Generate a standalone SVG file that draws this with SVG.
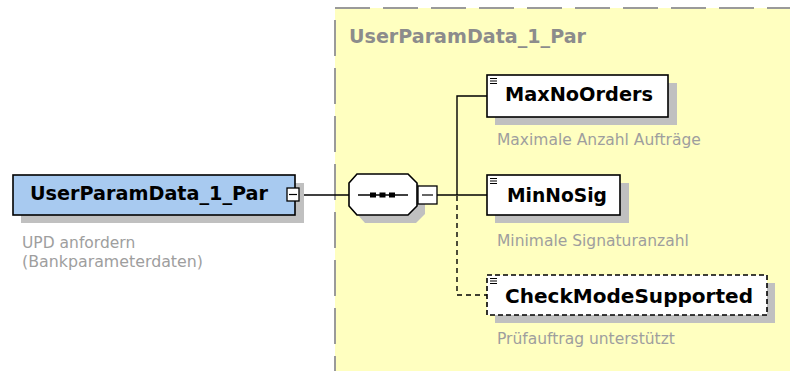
<svg xmlns="http://www.w3.org/2000/svg" width="790" height="371" viewBox="0 0 790 371">
<style>
  .name{font-family:"DejaVu Sans",Verdana,sans-serif;font-weight:bold;font-size:19px;fill:#000}
  .title{font-family:"DejaVu Sans",Verdana,sans-serif;font-weight:bold;font-size:19px;fill:#8c8c8c}
  .desc{font-family:"DejaVu Sans",Verdana,sans-serif;font-size:15.5px;fill:#9e9e9e}
  .box{fill:#fff;stroke:#000;stroke-width:1.6}
  .shadow{fill:#c0c0c0}
  .conn{stroke:#000;stroke-width:1.4;fill:none}
  .dconn{stroke:#000;stroke-width:1.4;fill:none;stroke-dasharray:5 4}
  .icon{stroke:#000;stroke-width:1}
  .tog{fill:#fff;stroke:#000;stroke-width:1.3}
</style>
<rect width="790" height="371" fill="#fff"/>
<g id="group-area">
  <rect x="335" y="8" width="455" height="363" fill="#ffffc0"/>
  <line x1="335" y1="8" x2="790" y2="8" stroke="#9a9a9a" stroke-width="2" stroke-dasharray="35 13"/>
  <line x1="335" y1="20" x2="335" y2="371" stroke="#9a9a9a" stroke-width="2" stroke-dasharray="36 12"/>
  <text class="title" x="349" y="43" textLength="237" lengthAdjust="spacingAndGlyphs">UserParamData_1_Par</text>
</g>
<g id="connectors">
  <line class="conn" x1="299" y1="195" x2="349" y2="195"/>
  <line class="conn" x1="437" y1="195" x2="487" y2="195"/>
  <polyline class="conn" points="457,195 457,96 487,96"/>
  <polyline class="dconn" points="457,196 457,295 487,295"/>
</g>
<g id="root">
  <rect class="shadow" x="21" y="183" width="283" height="40"/>
  <rect x="13" y="175" width="282" height="40" fill="#a8caf0" stroke="#000" stroke-width="1.6"/>
  <text class="name" x="30" y="200" textLength="238" lengthAdjust="spacingAndGlyphs">UserParamData_1_Par</text>
  <rect class="tog" x="287" y="188" width="12" height="13"/>
  <line x1="289" y1="194.5" x2="297" y2="194.5" stroke="#000" stroke-width="1.2"/>
  <text class="desc" x="22" y="248">UPD anfordern</text>
  <text class="desc" x="22" y="267" textLength="181" lengthAdjust="spacingAndGlyphs">(Bankparameterdaten)</text>
</g>
<g id="sequence">
  <polygon class="shadow" points="365,182 416,182 425,191 425,214 416,223 365,223 357,214 357,191"/>
  <polygon points="357,174 408,174 417,183 417,206 408,215 357,215 349,206 349,183" fill="#fff" stroke="#000" stroke-width="1.6"/>
  <line x1="358" y1="195" x2="408" y2="195" stroke="#000" stroke-width="1.4"/>
  <rect x="370" y="192.5" width="6" height="5" fill="#000"/>
  <rect x="379.5" y="192.5" width="6" height="5" fill="#000"/>
  <rect x="389" y="192.5" width="6" height="5" fill="#000"/>
  <rect class="tog" x="418" y="186" width="19" height="18"/>
  <line x1="422" y1="195" x2="433" y2="195" stroke="#000" stroke-width="1.2"/>
</g>
<g id="MaxNoOrders">
  <rect class="shadow" x="495" y="83" width="182" height="42"/>
  <rect class="box" x="487" y="75" width="181" height="42"/>
  <line class="icon" x1="490" y1="78.5" x2="497" y2="78.5"/>
  <line class="icon" x1="490" y1="81" x2="497" y2="81"/>
  <line class="icon" x1="490" y1="83.5" x2="497" y2="83.5"/>
  <text class="name" x="505" y="101" textLength="148" lengthAdjust="spacingAndGlyphs">MaxNoOrders</text>
  <text class="desc" x="497" y="145">Maximale Anzahl Aufträge</text>
</g>
<g id="MinNoSig">
  <rect class="shadow" x="495" y="183" width="134" height="40"/>
  <rect class="box" x="487" y="175" width="133" height="40"/>
  <line class="icon" x1="490" y1="178.5" x2="497" y2="178.5"/>
  <line class="icon" x1="490" y1="181" x2="497" y2="181"/>
  <line class="icon" x1="490" y1="183.5" x2="497" y2="183.5"/>
  <text class="name" x="507" y="202" textLength="100" lengthAdjust="spacingAndGlyphs">MinNoSig</text>
  <text class="desc" x="497" y="246">Minimale Signaturanzahl</text>
</g>
<g id="CheckModeSupported">
  <rect class="shadow" x="495" y="283" width="280" height="40"/>
  <rect x="487" y="275" width="280" height="40" fill="#fff" stroke="#000" stroke-width="1.6" stroke-dasharray="5 3"/>
  <line class="icon" x1="490" y1="278.5" x2="497" y2="278.5"/>
  <line class="icon" x1="490" y1="281" x2="497" y2="281"/>
  <line class="icon" x1="490" y1="283.5" x2="497" y2="283.5"/>
  <text class="name" x="505" y="303" textLength="248" lengthAdjust="spacingAndGlyphs">CheckModeSupported</text>
  <text class="desc" x="497" y="344">Prüfauftrag unterstützt</text>
</g>
</svg>
